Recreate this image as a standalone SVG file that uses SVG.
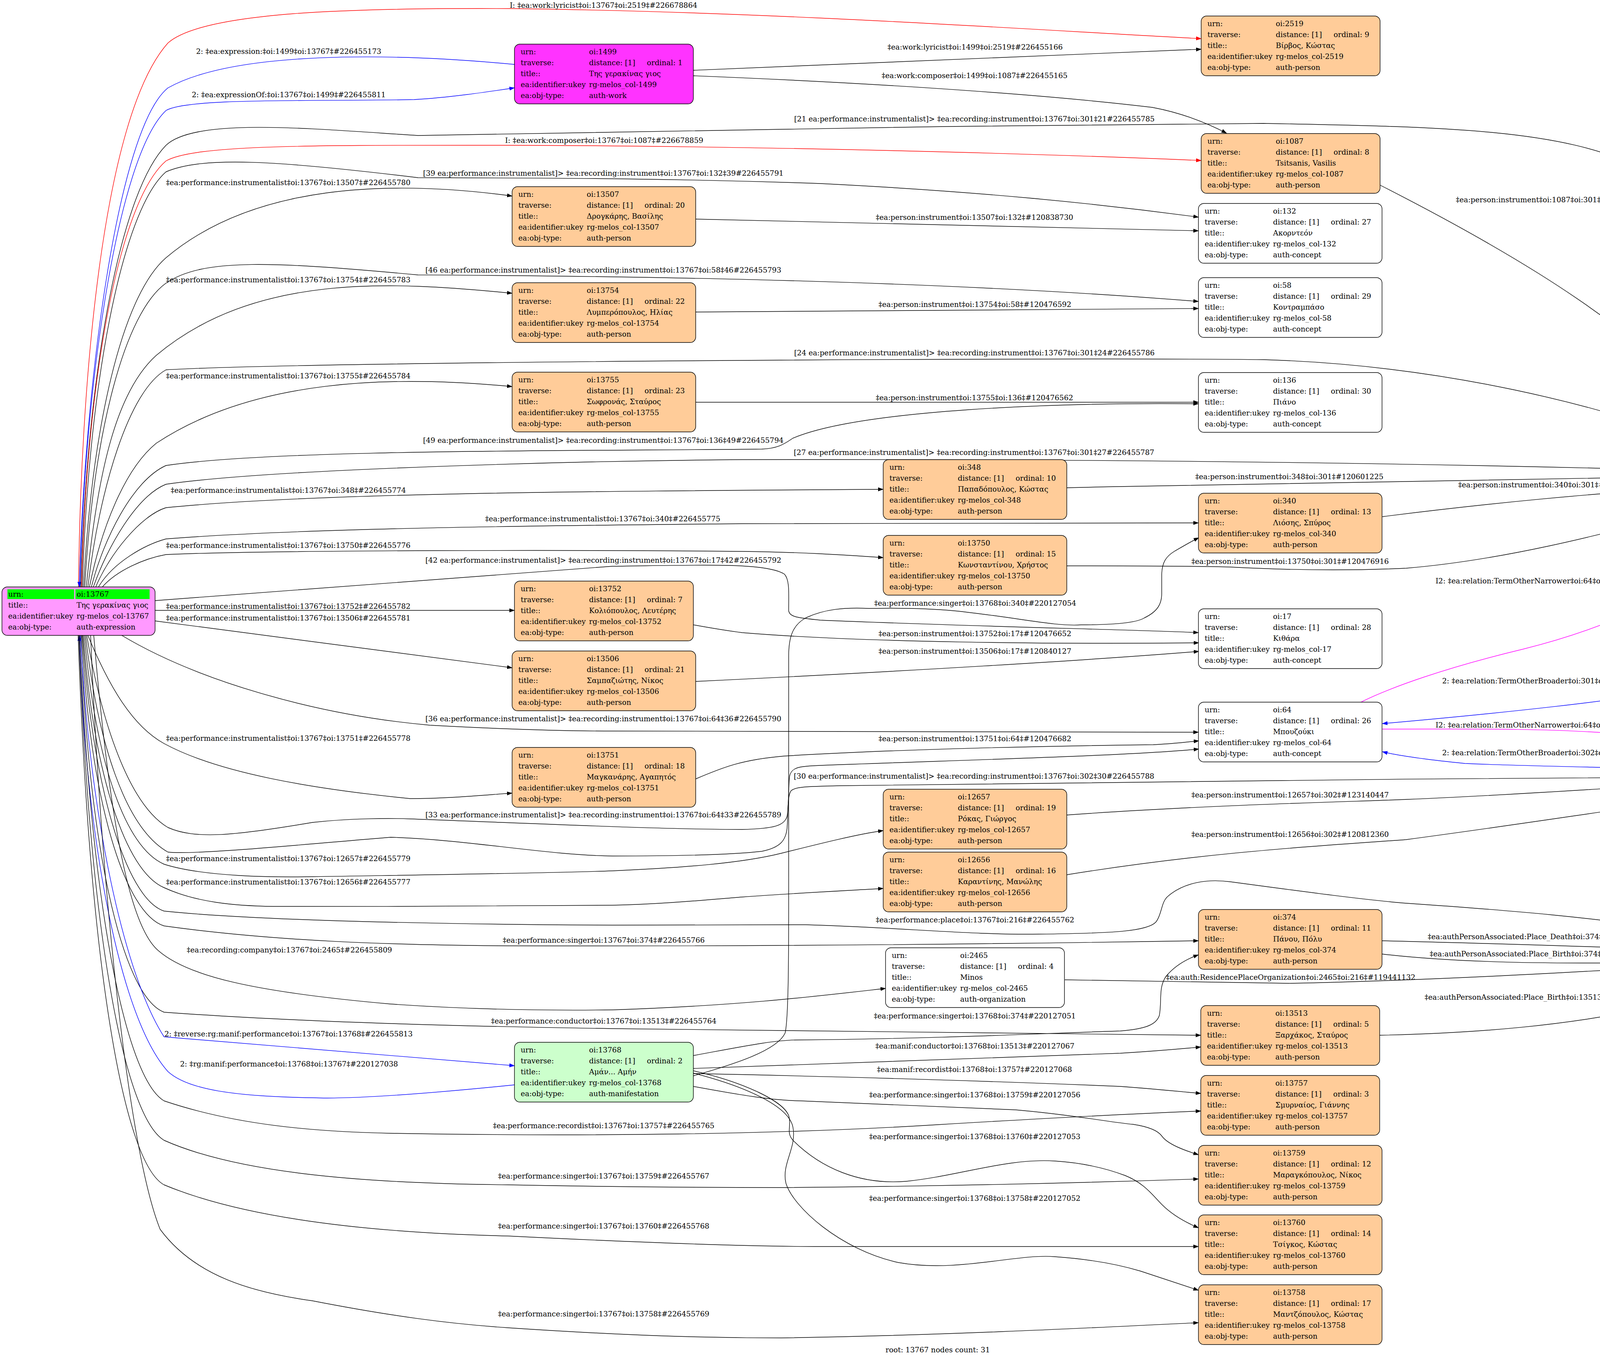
<svg xmlns="http://www.w3.org/2000/svg" width="4803" height="3480" viewBox="0 0 4803 3480">
<style>
text { font-family: "DejaVu Serif", "Liberation Serif", serif; font-size: 18.67px; fill: #000; }
.box { stroke: #000; stroke-width: 1.4; }
.person { fill: #ffcc99; }
.white { fill: #ffffff; }
.work { fill: #ff33ff; }
.expr { fill: #ff99ff; }
.manif { fill: #ccffcc; }
.e { fill: none; stroke: #000; stroke-width: 1.4; marker-end: url(#ab); }
.r { stroke: #ff0000; marker-end: url(#ar); }
.b { stroke: #0000ff; marker-end: url(#abl); }
.m { stroke: #ff00ff; marker-end: url(#am); }
</style>
<defs>
<marker id="ab" markerWidth="14" markerHeight="10" refX="13" refY="5" orient="auto" markerUnits="userSpaceOnUse"><path d="M0,0 L14,5 L0,10 z" fill="#000"/></marker>
<marker id="ar" markerWidth="14" markerHeight="10" refX="13" refY="5" orient="auto" markerUnits="userSpaceOnUse"><path d="M0,0 L14,5 L0,10 z" fill="#ff0000"/></marker>
<marker id="abl" markerWidth="14" markerHeight="10" refX="13" refY="5" orient="auto" markerUnits="userSpaceOnUse"><path d="M0,0 L14,5 L0,10 z" fill="#0000ff"/></marker>
<marker id="am" markerWidth="14" markerHeight="10" refX="13" refY="5" orient="auto" markerUnits="userSpaceOnUse"><path d="M0,0 L14,5 L0,10 z" fill="#ff00ff"/></marker>
</defs>
<rect width="4803" height="3480" fill="#ffffff"/>

<g id="edges">
<path class="e r" d="M201,1503 C206,1000 260,300 430,110 C520,30 900,20 1305,22 C2000,30 2700,80 3075,99"/>
<path class="e b" d="M1317,165 C1000,135 600,130 430,225 C300,330 215,1000 203,1503"/>
<path class="e b" d="M205,1503 C215,1000 300,400 425,283 C480,250 800,260 1060,255 C1150,250 1250,235 1317,225"/>
<path class="e" d="M207,1503 C220,1000 300,500 425,372 C500,300 800,330 1070,347 C1300,340 2500,320 3235,316 C3700,325 4000,330 4200,430 C4450,600 4530,900 4555,1138"/>
<path class="e r" d="M209,1503 C220,1000 300,520 425,412 C500,370 800,372 1290,372 C2000,374 2700,395 3075,411"/>
<path class="e" d="M211,1503 C225,1000 310,540 425,440 C520,400 700,410 1070,455 C1400,456 1700,456 2100,470 C2500,490 2800,520 3068,556"/>
<path class="e" d="M214,1503 C235,1100 310,760 425,660 C650,470 1000,460 1311,502"/>
<path class="e" d="M217,1503 C240,1100 320,800 425,725 C520,660 700,670 1070,704 C1400,706 2300,710 3068,772"/>
<path class="e" d="M221,1503 C250,1200 300,1000 400,910 C650,700 1000,720 1311,751"/>
<path class="e" d="M225,1503 C255,1250 330,1000 425,947 C800,925 2800,915 3235,921 C3700,935 4100,1040 4365,1138"/>
<path class="e" d="M229,1503 C260,1350 320,1200 400,1135 C650,970 1000,960 1311,990"/>
<path class="e" d="M234,1503 C265,1380 340,1230 425,1192 C700,1150 1500,1155 1950,1150 C1995,1148 2010,1135 2030,1122 C2200,1050 2700,1030 3068,1034"/>
<path class="e" d="M239,1503 C275,1400 350,1270 425,1240 C700,1200 1500,1180 1900,1177 C2800,1175 3600,1185 4327,1205"/>
<path class="e" d="M245,1503 C280,1420 360,1320 425,1300 C800,1262 1500,1258 2261,1253"/>
<path class="e" d="M252,1503 C290,1440 370,1395 425,1380 C800,1350 1500,1345 1900,1341 C2500,1339 2900,1339 3068,1339"/>
<path class="e" d="M262,1503 C300,1460 370,1430 425,1420 C700,1408 1500,1408 1900,1412 C2050,1414 2150,1420 2261,1428"/>
<path class="e" d="M397,1538 L1568,1450 C1800,1447 1960,1440 2008,1470 C2022,1485 2019,1520 2019,1564 C2022,1580 2041,1582 2100,1588 C2500,1605 2900,1612 3068,1620"/>
<path class="e" d="M397,1563 L1317,1563"/>
<path class="e" d="M397,1590 C800,1640 1100,1680 1311,1710"/>
<path class="e" d="M310,1626 C500,1740 800,1830 1100,1857 C1300,1868 1450,1872 1568,1872 L3068,1875"/>
<path class="e" d="M225,1627 C280,1760 340,1860 420,1904 C560,1980 800,2020 1050,2045 C1150,2045 1250,2035 1311,2031"/>
<path class="e" d="M222,1627 C260,1850 330,2060 430,2119 C500,2150 600,2140 800,2106 C900,2095 1000,2095 1050,2097 C1400,2110 1700,2124 1900,2124 C1980,2122 2008,2115 2015,2090 C2020,2060 2018,2000 2022,1985 C2028,1965 2045,1962 2100,1960 C2500,1945 2900,1935 3069,1918"/>
<path class="e" d="M219,1627 C250,1900 320,2120 430,2182 C500,2190 800,2160 1000,2144 C1200,2150 1400,2190 1568,2192 C1750,2192 1880,2188 1950,2180 C2000,2170 2012,2150 2015,2120 C2018,2080 2015,2040 2025,2025 C2035,2015 2060,2014 2150,2012 C2800,2002 3600,1994 4327,1990"/>
<path class="e" d="M216,1627 C245,1950 320,2170 420,2213 C520,2245 700,2247 800,2245 C1100,2240 1400,2236 1568,2230 C1750,2222 1900,2210 2000,2185 C2100,2160 2200,2135 2261,2127"/>
<path class="e" d="M213,1627 C240,1980 320,2230 420,2273 C500,2310 600,2320 700,2321 C1000,2322 1400,2320 1568,2318 C1700,2315 1800,2305 1900,2297 C2050,2286 2180,2280 2261,2275"/>
<path class="e" d="M211,1627 C235,2000 320,2300 420,2333 C700,2362 1300,2368 1568,2369 C1800,2369 1950,2368 2063,2368 C2300,2375 2500,2395 2659,2392 C2850,2390 2940,2385 2960,2360 C2975,2340 2972,2310 2990,2295 C3030,2260 3090,2250 3150,2258 C3350,2285 3500,2305 3601,2313 C3850,2330 4100,2350 4333,2389"/>
<path class="e" d="M209,1627 C230,2050 320,2340 420,2371 C700,2410 1000,2420 1300,2422 C2000,2424 2700,2415 3068,2409"/>
<path class="e" d="M240,1627 C280,2100 330,2370 405,2434 C480,2500 650,2540 1000,2571 C1200,2585 1400,2588 1568,2586 C1900,2575 2100,2550 2267,2531"/>
<path class="e" d="M207,1627 C225,2150 310,2550 420,2592 C800,2620 1300,2630 1568,2634 C2200,2645 2800,2650 3074,2651"/>
<path class="e b" d="M206,1628 C230,2100 320,2500 420,2655 C700,2680 1000,2705 1317,2729"/>
<path class="e b" d="M1317,2778 C1100,2800 900,2815 800,2811 C600,2808 480,2790 430,2744 C300,2600 215,2100 203,1628"/>
<path class="e" d="M204,1627 C230,2300 320,2760 420,2819 C600,2880 800,2898 1000,2902 C1500,2911 2000,2905 2400,2880 C2700,2862 2950,2850 3074,2845"/>
<path class="e" d="M202,1627 C230,2400 320,2860 420,2920 C600,3000 900,3030 1300,3034 C1600,3040 1800,3041 2000,3041 C2400,3038 2800,3028 3068,3019"/>
<path class="e" d="M200,1627 C230,2500 320,2980 420,3034 C650,3130 1000,3158 1300,3165 C1600,3180 1900,3192 2100,3192 L3068,3192"/>
<path class="e" d="M232,1627 C260,2300 330,2950 410,3148 C500,3270 650,3310 800,3331 C1000,3370 1150,3390 1300,3400 C1600,3420 1800,3426 2000,3426 C2400,3420 2800,3400 3068,3387"/>
<path class="e" d="M1775,180 C2300,160 2800,140 3075,126"/>
<path class="e" d="M1775,194 C2300,215 2700,245 2950,275 C3030,290 3090,315 3140,341"/>
<path class="e" d="M1780,561 C2300,575 2800,585 3068,591"/>
<path class="e" d="M1780,799 C2300,795 2800,791 3068,790"/>
<path class="e" d="M1780,1030 L3068,1030"/>
<path class="e" d="M3533,474 C3800,610 4100,780 4280,960 C4400,1060 4470,1100 4510,1138"/>
<path class="e" d="M2731,1249 C3100,1240 3500,1234 3601,1233 C3900,1228 4150,1222 4327,1220"/>
<path class="e" d="M3539,1323 C3800,1290 4100,1260 4327,1250"/>
<path class="e" d="M2731,1449 C2900,1449 3050,1449 3150,1452 C3300,1460 3450,1462 3600,1455 C3900,1430 4200,1340 4383,1294"/>
<path class="e m" d="M3484,1798 C3560,1760 3700,1710 3900,1662 C4150,1600 4330,1500 4417,1425 C4460,1380 4490,1330 4508,1293"/>
<path class="e b" d="M4550,1291 C4520,1450 4440,1660 4304,1760 C4200,1790 3800,1830 3539,1853"/>
<path class="e m" d="M3539,1867 C3800,1866 4000,1866 4150,1880 C4230,1890 4290,1905 4329,1918"/>
<path class="e b" d="M4329,1971 C4150,1965 3900,1962 3750,1955 C3650,1945 3580,1935 3539,1925"/>
<path class="e" d="M2731,2087 C3100,2060 3500,2052 3601,2047 C3900,2035 4150,2015 4329,2007"/>
<path class="e" d="M2731,2240 C3100,2180 3400,2165 3600,2150 C3900,2110 4150,2070 4329,2047"/>
<path class="e" d="M1775,1600 C1830,1610 1860,1615 1900,1620 C2200,1645 2700,1650 3069,1646"/>
<path class="e" d="M1780,1745 C2300,1720 2800,1690 3069,1668"/>
<path class="e" d="M1780,1995 C1850,1965 1900,1945 2008,1936 C2300,1918 2700,1910 2952,1907 C3000,1905 3040,1900 3069,1897"/>
<path class="e" d="M1775,2755 C1880,2725 1990,2690 2010,2645 C2020,2600 2019,2400 2019,2200 L2019,1680 C2019,1630 2030,1600 2063,1582 C2110,1560 2160,1555 2225,1558 C2330,1556 2400,1560 2442,1564 C2600,1580 2700,1605 2768,1600 C2850,1600 2910,1595 2930,1582 C2965,1565 2974,1545 2974,1520 L2974,1470 C2975,1440 2985,1425 3006,1412 C3030,1398 3050,1386 3069,1377"/>
<path class="e" d="M1775,2703 C1900,2680 1980,2663 2045,2663 C2400,2660 2700,2645 2868,2640 C2930,2635 2960,2625 2968,2600 C2975,2560 2965,2530 2985,2500 C3010,2470 3040,2455 3068,2445"/>
<path class="e" d="M1775,2736 C2300,2715 2700,2700 2868,2697 C2950,2692 3020,2686 3074,2681"/>
<path class="e" d="M1775,2749 C2300,2760 2700,2775 2868,2782 C2950,2788 3020,2795 3074,2800"/>
<path class="e" d="M1775,2782 C1900,2805 1980,2818 2050,2819 C2300,2830 2500,2838 2600,2842 C2750,2855 2850,2875 2900,2879 C2940,2885 2965,2895 2975,2910 C2990,2930 3030,2945 3068,2957"/>
<path class="e" d="M1775,2742 C1900,2770 2010,2820 2020,2860 C2026,2885 2012,2900 2030,2920 C2100,2990 2200,3035 2320,3025 C2450,3012 2580,2965 2700,2973 C2780,2978 2840,2995 2880,3010 C2930,3030 2950,3060 2975,3085 C3000,3110 3035,3130 3068,3144"/>
<path class="e" d="M1775,2748 C1900,2780 2020,2830 2030,2887 C2040,2940 2000,2980 2012,3030 C2030,3090 2150,3200 2300,3233 C2450,3260 2600,3210 2700,3218 C2800,3225 2870,3240 2920,3255 C2960,3268 3010,3285 3068,3304"/>
<path class="e" d="M3538,2409 C3900,2418 4200,2428 4333,2435"/>
<path class="e" d="M3538,2443 C3700,2462 3900,2466 4050,2466 C4200,2466 4280,2466 4333,2466"/>
<path class="e" d="M2726,2509 C3000,2515 3200,2518 3300,2518 C3700,2510 4100,2485 4333,2472"/>
<path class="e" d="M3532,2651 C3800,2645 4000,2625 4200,2586 C4300,2565 4370,2545 4400,2533"/>
</g>

<g id="edge-labels">
<text x="1305" y="20">I: ‡ea:work:lyricist‡oi:13767‡oi:2519‡#226678864</text>
<text x="502" y="138">2: ‡ea:expression:‡oi:1499‡oi:13767‡#226455173</text>
<text x="491" y="249">2: ‡ea:expressionOf:‡oi:13767‡oi:1499‡#226455811</text>
<text x="2272" y="127">‡ea:work:lyricist‡oi:1499‡oi:2519‡#226455166</text>
<text x="2257" y="200">‡ea:work:composer‡oi:1499‡oi:1087‡#226455165</text>
<text x="2033" y="311">[21 ea:performance:instrumentalist]&gt; ‡ea:recording:instrument‡oi:13767‡oi:301‡21#226455785</text>
<text x="1293" y="366">I: ‡ea:work:composer‡oi:13767‡oi:1087‡#226678859</text>
<text x="1083" y="450">[39 ea:performance:instrumentalist]&gt; ‡ea:recording:instrument‡oi:13767‡oi:132‡39#226455791</text>
<text x="425" y="474">‡ea:performance:instrumentalist‡oi:13767‡oi:13507‡#226455780</text>
<text x="3727" y="518">‡ea:person:instrument‡oi:1087‡oi:301‡#226063146</text>
<text x="2242" y="563">‡ea:person:instrument‡oi:13507‡oi:132‡#120838730</text>
<text x="1089" y="698">[46 ea:performance:instrumentalist]&gt; ‡ea:recording:instrument‡oi:13767‡oi:58‡46#226455793</text>
<text x="425" y="723">‡ea:performance:instrumentalist‡oi:13767‡oi:13754‡#226455783</text>
<text x="2249" y="786">‡ea:person:instrument‡oi:13754‡oi:58‡#120476592</text>
<text x="2033" y="910">[24 ea:performance:instrumentalist]&gt; ‡ea:recording:instrument‡oi:13767‡oi:301‡24#226455786</text>
<text x="425" y="969">‡ea:performance:instrumentalist‡oi:13767‡oi:13755‡#226455784</text>
<text x="2242" y="1025">‡ea:person:instrument‡oi:13755‡oi:136‡#120476562</text>
<text x="1083" y="1134">[49 ea:performance:instrumentalist]&gt; ‡ea:recording:instrument‡oi:13767‡oi:136‡49#226455794</text>
<text x="2032" y="1165">[27 ea:performance:instrumentalist]&gt; ‡ea:recording:instrument‡oi:13767‡oi:301‡27#226455787</text>
<text x="3060" y="1227">‡ea:person:instrument‡oi:348‡oi:301‡#120601225</text>
<text x="3733" y="1248">‡ea:person:instrument‡oi:340‡oi:301‡#120579151</text>
<text x="437" y="1262">‡ea:performance:instrumentalist‡oi:13767‡oi:348‡#226455774</text>
<text x="1242" y="1335">‡ea:performance:instrumentalist‡oi:13767‡oi:340‡#226455775</text>
<text x="425" y="1403">‡ea:performance:instrumentalist‡oi:13767‡oi:13750‡#226455776</text>
<text x="1089" y="1441">[42 ea:performance:instrumentalist]&gt; ‡ea:recording:instrument‡oi:13767‡oi:17‡42#226455792</text>
<text x="3050" y="1444">‡ea:person:instrument‡oi:13750‡oi:301‡#120476916</text>
<text x="3675" y="1494">I2: ‡ea:relation:TermOtherNarrower‡oi:64‡oi:301‡#226517825</text>
<text x="2238" y="1551">‡ea:performance:singer‡oi:13768‡oi:340‡#220127054</text>
<text x="425" y="1559">‡ea:performance:instrumentalist‡oi:13767‡oi:13752‡#226455782</text>
<text x="425" y="1589">‡ea:performance:instrumentalist‡oi:13767‡oi:13506‡#226455781</text>
<text x="2249" y="1629">‡ea:person:instrument‡oi:13752‡oi:17‡#120476652</text>
<text x="2249" y="1674">‡ea:person:instrument‡oi:13506‡oi:17‡#120840127</text>
<text x="3692" y="1750">2: ‡ea:relation:TermOtherBroader‡oi:301‡oi:64‡#87346634</text>
<text x="1089" y="1847">[36 ea:performance:instrumentalist]&gt; ‡ea:recording:instrument‡oi:13767‡oi:64‡36#226455790</text>
<text x="3675" y="1863">I2: ‡ea:relation:TermOtherNarrower‡oi:64‡oi:302‡#226536840</text>
<text x="425" y="1897">‡ea:performance:instrumentalist‡oi:13767‡oi:13751‡#226455778</text>
<text x="2249" y="1898">‡ea:person:instrument‡oi:13751‡oi:64‡#120476682</text>
<text x="3692" y="1934">2: ‡ea:relation:TermOtherBroader‡oi:302‡oi:64‡#87346607</text>
<text x="2032" y="1994">[30 ea:performance:instrumentalist]&gt; ‡ea:recording:instrument‡oi:13767‡oi:302‡30#226455788</text>
<text x="3050" y="2042">‡ea:person:instrument‡oi:12657‡oi:302‡#123140447</text>
<text x="1089" y="2093">[33 ea:performance:instrumentalist]&gt; ‡ea:recording:instrument‡oi:13767‡oi:64‡33#226455789</text>
<text x="3050" y="2143">‡ea:person:instrument‡oi:12656‡oi:302‡#120812360</text>
<text x="425" y="2205">‡ea:performance:instrumentalist‡oi:13767‡oi:12657‡#226455779</text>
<text x="425" y="2265">‡ea:performance:instrumentalist‡oi:13767‡oi:12656‡#226455777</text>
<text x="2242" y="2362">‡ea:performance:place‡oi:13767‡oi:216‡#226455762</text>
<text x="3655" y="2405">‡ea:authPersonAssociated:Place_Death‡oi:374‡oi:216‡#113394011</text>
<text x="1287" y="2414">‡ea:performance:singer‡oi:13767‡oi:374‡#226455766</text>
<text x="478" y="2439">‡ea:recording:company‡oi:13767‡oi:2465‡#226455809</text>
<text x="3660" y="2449">‡ea:authPersonAssociated:Place_Birth‡oi:374‡oi:216‡#113394010</text>
<text x="2985" y="2509">‡ea:auth:ResidencePlaceOrganization‡oi:2465‡oi:216‡#119441132</text>
<text x="3647" y="2560">‡ea:authPersonAssociated:Place_Birth‡oi:13513‡oi:216‡#120478184</text>
<text x="2237" y="2608">‡ea:performance:singer‡oi:13768‡oi:374‡#220127051</text>
<text x="1257" y="2621">‡ea:performance:conductor‡oi:13767‡oi:13513‡#226455764</text>
<text x="421" y="2654">2: ‡reverse:rg:manif:performance‡oi:13767‡oi:13768‡#226455813</text>
<text x="2241" y="2685">‡ea:manif:conductor‡oi:13768‡oi:13513‡#220127067</text>
<text x="461" y="2731">2: ‡rg:manif:performance‡oi:13768‡oi:13767‡#220127038</text>
<text x="2245" y="2745">‡ea:manif:recordist‡oi:13768‡oi:13757‡#220127068</text>
<text x="2225" y="2810">‡ea:performance:singer‡oi:13768‡oi:13759‡#220127056</text>
<text x="1262" y="2889">‡ea:performance:recordist‡oi:13767‡oi:13757‡#226455765</text>
<text x="2225" y="2917">‡ea:performance:singer‡oi:13768‡oi:13760‡#220127053</text>
<text x="1275" y="3018">‡ea:performance:singer‡oi:13767‡oi:13759‡#226455767</text>
<text x="2225" y="3075">‡ea:performance:singer‡oi:13768‡oi:13758‡#220127052</text>
<text x="1275" y="3146">‡ea:performance:singer‡oi:13767‡oi:13760‡#226455768</text>
<text x="1275" y="3371">‡ea:performance:singer‡oi:13767‡oi:13758‡#226455769</text>
</g>

<g id="n13767" transform="translate(5,1503)">
<rect class="box expr" width="392" height="124" rx="14"/>
<rect x="14" y="6" width="171" height="25" fill="#00ff00"/>
<rect x="188" y="6" width="190" height="25" fill="#00ff00"/>
<text x="16" y="25">urn:</text><text x="191" y="25">oi:13767</text>
<text x="16" y="53">title::</text><text x="191" y="53">Της γερακίνας γιος</text>
<text x="16" y="81">ea:identifier:ukey</text><text x="191" y="81">rg-melos_col-13767</text>
<text x="16" y="109">ea:obj-type:</text><text x="191" y="109">auth-expression</text>
</g>

<g id="n1499" transform="translate(1317,113)">
<rect class="box work" width="458" height="153" rx="14"/>
<text x="16" y="26">urn:</text><text x="191" y="26">oi:1499</text>
<text x="16" y="54">traverse:</text><text x="191" y="54">distance: [1]</text><text x="339" y="54">ordinal: 1</text>
<text x="16" y="82">title::</text><text x="191" y="82">Της γερακίνας γιος</text>
<text x="16" y="110">ea:identifier:ukey</text><text x="191" y="110">rg-melos_col-1499</text>
<text x="16" y="138">ea:obj-type:</text><text x="191" y="138">auth-work</text>
</g>

<g id="n13507" transform="translate(1311,478)">
<rect class="box person" width="470" height="153" rx="14"/>
<text x="16" y="26">urn:</text><text x="191" y="26">oi:13507</text>
<text x="16" y="54">traverse:</text><text x="191" y="54">distance: [1]</text><text x="339" y="54">ordinal: 20</text>
<text x="16" y="82">title::</text><text x="191" y="82">Δρογκάρης, Βασίλης</text>
<text x="16" y="110">ea:identifier:ukey</text><text x="191" y="110">rg-melos_col-13507</text>
<text x="16" y="138">ea:obj-type:</text><text x="191" y="138">auth-person</text>
</g>

<g id="n13754" transform="translate(1311,724)">
<rect class="box person" width="470" height="153" rx="14"/>
<text x="16" y="26">urn:</text><text x="191" y="26">oi:13754</text>
<text x="16" y="54">traverse:</text><text x="191" y="54">distance: [1]</text><text x="339" y="54">ordinal: 22</text>
<text x="16" y="82">title::</text><text x="191" y="82">Λυμπερόπουλος, Ηλίας</text>
<text x="16" y="110">ea:identifier:ukey</text><text x="191" y="110">rg-melos_col-13754</text>
<text x="16" y="138">ea:obj-type:</text><text x="191" y="138">auth-person</text>
</g>

<g id="n13755" transform="translate(1311,953)">
<rect class="box person" width="470" height="153" rx="14"/>
<text x="16" y="26">urn:</text><text x="191" y="26">oi:13755</text>
<text x="16" y="54">traverse:</text><text x="191" y="54">distance: [1]</text><text x="339" y="54">ordinal: 23</text>
<text x="16" y="82">title::</text><text x="191" y="82">Σωφρονάς, Σταύρος</text>
<text x="16" y="110">ea:identifier:ukey</text><text x="191" y="110">rg-melos_col-13755</text>
<text x="16" y="138">ea:obj-type:</text><text x="191" y="138">auth-person</text>
</g>

<g id="n13752" transform="translate(1317,1488)">
<rect class="box person" width="458" height="153" rx="14"/>
<text x="16" y="26">urn:</text><text x="191" y="26">oi:13752</text>
<text x="16" y="54">traverse:</text><text x="191" y="54">distance: [1]</text><text x="339" y="54">ordinal: 7</text>
<text x="16" y="82">title::</text><text x="191" y="82">Κολιόπουλος, Λευτέρης</text>
<text x="16" y="110">ea:identifier:ukey</text><text x="191" y="110">rg-melos_col-13752</text>
<text x="16" y="138">ea:obj-type:</text><text x="191" y="138">auth-person</text>
</g>

<g id="n13506" transform="translate(1311,1667)">
<rect class="box person" width="470" height="153" rx="14"/>
<text x="16" y="26">urn:</text><text x="191" y="26">oi:13506</text>
<text x="16" y="54">traverse:</text><text x="191" y="54">distance: [1]</text><text x="339" y="54">ordinal: 21</text>
<text x="16" y="82">title::</text><text x="191" y="82">Σαμπαζιώτης, Νίκος</text>
<text x="16" y="110">ea:identifier:ukey</text><text x="191" y="110">rg-melos_col-13506</text>
<text x="16" y="138">ea:obj-type:</text><text x="191" y="138">auth-person</text>
</g>

<g id="n13751" transform="translate(1311,1914)">
<rect class="box person" width="470" height="153" rx="14"/>
<text x="16" y="26">urn:</text><text x="191" y="26">oi:13751</text>
<text x="16" y="54">traverse:</text><text x="191" y="54">distance: [1]</text><text x="339" y="54">ordinal: 18</text>
<text x="16" y="82">title::</text><text x="191" y="82">Μαγκανάρης, Αγαπητός</text>
<text x="16" y="110">ea:identifier:ukey</text><text x="191" y="110">rg-melos_col-13751</text>
<text x="16" y="138">ea:obj-type:</text><text x="191" y="138">auth-person</text>
</g>

<g id="n13768" transform="translate(1317,2669)">
<rect class="box manif" width="458" height="153" rx="14"/>
<text x="16" y="26">urn:</text><text x="191" y="26">oi:13768</text>
<text x="16" y="54">traverse:</text><text x="191" y="54">distance: [1]</text><text x="339" y="54">ordinal: 2</text>
<text x="16" y="82">title::</text><text x="191" y="82">Αμάν... Αμήν</text>
<text x="16" y="110">ea:identifier:ukey</text><text x="191" y="110">rg-melos_col-13768</text>
<text x="16" y="138">ea:obj-type:</text><text x="191" y="138">auth-manifestation</text>
</g>

<g id="n348" transform="translate(2261,1177)">
<rect class="box person" width="470" height="153" rx="14"/>
<text x="16" y="26">urn:</text><text x="191" y="26">oi:348</text>
<text x="16" y="54">traverse:</text><text x="191" y="54">distance: [1]</text><text x="339" y="54">ordinal: 10</text>
<text x="16" y="82">title::</text><text x="191" y="82">Παπαδόπουλος, Κώστας</text>
<text x="16" y="110">ea:identifier:ukey</text><text x="191" y="110">rg-melos_col-348</text>
<text x="16" y="138">ea:obj-type:</text><text x="191" y="138">auth-person</text>
</g>

<g id="n13750" transform="translate(2261,1371)">
<rect class="box person" width="470" height="153" rx="14"/>
<text x="16" y="26">urn:</text><text x="191" y="26">oi:13750</text>
<text x="16" y="54">traverse:</text><text x="191" y="54">distance: [1]</text><text x="339" y="54">ordinal: 15</text>
<text x="16" y="82">title::</text><text x="191" y="82">Κωνσταντίνου, Χρήστος</text>
<text x="16" y="110">ea:identifier:ukey</text><text x="191" y="110">rg-melos_col-13750</text>
<text x="16" y="138">ea:obj-type:</text><text x="191" y="138">auth-person</text>
</g>

<g id="n12657" transform="translate(2261,2021)">
<rect class="box person" width="470" height="153" rx="14"/>
<text x="16" y="26">urn:</text><text x="191" y="26">oi:12657</text>
<text x="16" y="54">traverse:</text><text x="191" y="54">distance: [1]</text><text x="339" y="54">ordinal: 19</text>
<text x="16" y="82">title::</text><text x="191" y="82">Ρόκας, Γιώργος</text>
<text x="16" y="110">ea:identifier:ukey</text><text x="191" y="110">rg-melos_col-12657</text>
<text x="16" y="138">ea:obj-type:</text><text x="191" y="138">auth-person</text>
</g>

<g id="n12656" transform="translate(2261,2182)">
<rect class="box person" width="470" height="153" rx="14"/>
<text x="16" y="26">urn:</text><text x="191" y="26">oi:12656</text>
<text x="16" y="54">traverse:</text><text x="191" y="54">distance: [1]</text><text x="339" y="54">ordinal: 16</text>
<text x="16" y="82">title::</text><text x="191" y="82">Καραντίνης, Μανώλης</text>
<text x="16" y="110">ea:identifier:ukey</text><text x="191" y="110">rg-melos_col-12656</text>
<text x="16" y="138">ea:obj-type:</text><text x="191" y="138">auth-person</text>
</g>

<g id="n2465" transform="translate(2267,2427)">
<rect class="box white" width="458" height="153" rx="14"/>
<text x="16" y="26">urn:</text><text x="191" y="26">oi:2465</text>
<text x="16" y="54">traverse:</text><text x="191" y="54">distance: [1]</text><text x="339" y="54">ordinal: 4</text>
<text x="16" y="82">title::</text><text x="191" y="82">Minos</text>
<text x="16" y="110">ea:identifier:ukey</text><text x="191" y="110">rg-melos_col-2465</text>
<text x="16" y="138">ea:obj-type:</text><text x="191" y="138">auth-organization</text>
</g>

<g id="n2519" transform="translate(3075,41)">
<rect class="box person" width="458" height="153" rx="14"/>
<text x="16" y="26">urn:</text><text x="191" y="26">oi:2519</text>
<text x="16" y="54">traverse:</text><text x="191" y="54">distance: [1]</text><text x="339" y="54">ordinal: 9</text>
<text x="16" y="82">title::</text><text x="191" y="82">Βίρβος, Κώστας</text>
<text x="16" y="110">ea:identifier:ukey</text><text x="191" y="110">rg-melos_col-2519</text>
<text x="16" y="138">ea:obj-type:</text><text x="191" y="138">auth-person</text>
</g>

<g id="n1087" transform="translate(3075,342)">
<rect class="box person" width="458" height="153" rx="14"/>
<text x="16" y="26">urn:</text><text x="191" y="26">oi:1087</text>
<text x="16" y="54">traverse:</text><text x="191" y="54">distance: [1]</text><text x="339" y="54">ordinal: 8</text>
<text x="16" y="82">title::</text><text x="191" y="82">Tsitsanis, Vasilis</text>
<text x="16" y="110">ea:identifier:ukey</text><text x="191" y="110">rg-melos_col-1087</text>
<text x="16" y="138">ea:obj-type:</text><text x="191" y="138">auth-person</text>
</g>

<g id="n132" transform="translate(3068,521)">
<rect class="box white" width="470" height="153" rx="14"/>
<text x="16" y="26">urn:</text><text x="191" y="26">oi:132</text>
<text x="16" y="54">traverse:</text><text x="191" y="54">distance: [1]</text><text x="339" y="54">ordinal: 27</text>
<text x="16" y="82">title::</text><text x="191" y="82">Ακορντεόν</text>
<text x="16" y="110">ea:identifier:ukey</text><text x="191" y="110">rg-melos_col-132</text>
<text x="16" y="138">ea:obj-type:</text><text x="191" y="138">auth-concept</text>
</g>

<g id="n58" transform="translate(3068,711)">
<rect class="box white" width="470" height="153" rx="14"/>
<text x="16" y="26">urn:</text><text x="191" y="26">oi:58</text>
<text x="16" y="54">traverse:</text><text x="191" y="54">distance: [1]</text><text x="339" y="54">ordinal: 29</text>
<text x="16" y="82">title::</text><text x="191" y="82">Κοντραμπάσο</text>
<text x="16" y="110">ea:identifier:ukey</text><text x="191" y="110">rg-melos_col-58</text>
<text x="16" y="138">ea:obj-type:</text><text x="191" y="138">auth-concept</text>
</g>

<g id="n136" transform="translate(3068,954)">
<rect class="box white" width="470" height="153" rx="14"/>
<text x="16" y="26">urn:</text><text x="191" y="26">oi:136</text>
<text x="16" y="54">traverse:</text><text x="191" y="54">distance: [1]</text><text x="339" y="54">ordinal: 30</text>
<text x="16" y="82">title::</text><text x="191" y="82">Πιάνο</text>
<text x="16" y="110">ea:identifier:ukey</text><text x="191" y="110">rg-melos_col-136</text>
<text x="16" y="138">ea:obj-type:</text><text x="191" y="138">auth-concept</text>
</g>

<g id="n340" transform="translate(3068,1263)">
<rect class="box person" width="470" height="153" rx="14"/>
<text x="16" y="26">urn:</text><text x="191" y="26">oi:340</text>
<text x="16" y="54">traverse:</text><text x="191" y="54">distance: [1]</text><text x="339" y="54">ordinal: 13</text>
<text x="16" y="82">title::</text><text x="191" y="82">Λιόσης, Σπύρος</text>
<text x="16" y="110">ea:identifier:ukey</text><text x="191" y="110">rg-melos_col-340</text>
<text x="16" y="138">ea:obj-type:</text><text x="191" y="138">auth-person</text>
</g>

<g id="n17" transform="translate(3068,1559)">
<rect class="box white" width="470" height="153" rx="14"/>
<text x="16" y="26">urn:</text><text x="191" y="26">oi:17</text>
<text x="16" y="54">traverse:</text><text x="191" y="54">distance: [1]</text><text x="339" y="54">ordinal: 28</text>
<text x="16" y="82">title::</text><text x="191" y="82">Κιθάρα</text>
<text x="16" y="110">ea:identifier:ukey</text><text x="191" y="110">rg-melos_col-17</text>
<text x="16" y="138">ea:obj-type:</text><text x="191" y="138">auth-concept</text>
</g>

<g id="n64" transform="translate(3068,1798)">
<rect class="box white" width="470" height="153" rx="14"/>
<text x="16" y="26">urn:</text><text x="191" y="26">oi:64</text>
<text x="16" y="54">traverse:</text><text x="191" y="54">distance: [1]</text><text x="339" y="54">ordinal: 26</text>
<text x="16" y="82">title::</text><text x="191" y="82">Μπουζούκι</text>
<text x="16" y="110">ea:identifier:ukey</text><text x="191" y="110">rg-melos_col-64</text>
<text x="16" y="138">ea:obj-type:</text><text x="191" y="138">auth-concept</text>
</g>

<g id="n374" transform="translate(3068,2329)">
<rect class="box person" width="470" height="153" rx="14"/>
<text x="16" y="26">urn:</text><text x="191" y="26">oi:374</text>
<text x="16" y="54">traverse:</text><text x="191" y="54">distance: [1]</text><text x="339" y="54">ordinal: 11</text>
<text x="16" y="82">title::</text><text x="191" y="82">Πάνου, Πόλυ</text>
<text x="16" y="110">ea:identifier:ukey</text><text x="191" y="110">rg-melos_col-374</text>
<text x="16" y="138">ea:obj-type:</text><text x="191" y="138">auth-person</text>
</g>

<g id="n13513" transform="translate(3074,2575)">
<rect class="box person" width="458" height="153" rx="14"/>
<text x="16" y="26">urn:</text><text x="191" y="26">oi:13513</text>
<text x="16" y="54">traverse:</text><text x="191" y="54">distance: [1]</text><text x="339" y="54">ordinal: 5</text>
<text x="16" y="82">title::</text><text x="191" y="82">Ξαρχάκος, Σταύρος</text>
<text x="16" y="110">ea:identifier:ukey</text><text x="191" y="110">rg-melos_col-13513</text>
<text x="16" y="138">ea:obj-type:</text><text x="191" y="138">auth-person</text>
</g>

<g id="n13757" transform="translate(3074,2754)">
<rect class="box person" width="458" height="153" rx="14"/>
<text x="16" y="26">urn:</text><text x="191" y="26">oi:13757</text>
<text x="16" y="54">traverse:</text><text x="191" y="54">distance: [1]</text><text x="339" y="54">ordinal: 3</text>
<text x="16" y="82">title::</text><text x="191" y="82">Σμυρναίος, Γιάννης</text>
<text x="16" y="110">ea:identifier:ukey</text><text x="191" y="110">rg-melos_col-13757</text>
<text x="16" y="138">ea:obj-type:</text><text x="191" y="138">auth-person</text>
</g>

<g id="n13759" transform="translate(3068,2933)">
<rect class="box person" width="470" height="153" rx="14"/>
<text x="16" y="26">urn:</text><text x="191" y="26">oi:13759</text>
<text x="16" y="54">traverse:</text><text x="191" y="54">distance: [1]</text><text x="339" y="54">ordinal: 12</text>
<text x="16" y="82">title::</text><text x="191" y="82">Μαραγκόπουλος, Νίκος</text>
<text x="16" y="110">ea:identifier:ukey</text><text x="191" y="110">rg-melos_col-13759</text>
<text x="16" y="138">ea:obj-type:</text><text x="191" y="138">auth-person</text>
</g>

<g id="n13760" transform="translate(3068,3111)">
<rect class="box person" width="470" height="153" rx="14"/>
<text x="16" y="26">urn:</text><text x="191" y="26">oi:13760</text>
<text x="16" y="54">traverse:</text><text x="191" y="54">distance: [1]</text><text x="339" y="54">ordinal: 14</text>
<text x="16" y="82">title::</text><text x="191" y="82">Τσίγκος, Κώστας</text>
<text x="16" y="110">ea:identifier:ukey</text><text x="191" y="110">rg-melos_col-13760</text>
<text x="16" y="138">ea:obj-type:</text><text x="191" y="138">auth-person</text>
</g>

<g id="n13758" transform="translate(3068,3290)">
<rect class="box person" width="470" height="153" rx="14"/>
<text x="16" y="26">urn:</text><text x="191" y="26">oi:13758</text>
<text x="16" y="54">traverse:</text><text x="191" y="54">distance: [1]</text><text x="339" y="54">ordinal: 17</text>
<text x="16" y="82">title::</text><text x="191" y="82">Μαντζόπουλος, Κώστας</text>
<text x="16" y="110">ea:identifier:ukey</text><text x="191" y="110">rg-melos_col-13758</text>
<text x="16" y="138">ea:obj-type:</text><text x="191" y="138">auth-person</text>
</g>

<g id="n301" transform="translate(4327,1138)">
<rect class="box white" width="470" height="153" rx="14"/>
<text x="16" y="26">urn:</text><text x="191" y="26">oi:301</text>
<text x="16" y="54">traverse:</text><text x="191" y="54">distance: [1]</text><text x="339" y="54">ordinal: 24</text>
<text x="16" y="82">title::</text><text x="191" y="82">Τρίχορδο μπουζούκι</text>
<text x="16" y="110">ea:identifier:ukey</text><text x="191" y="110">rg-melos_col-301</text>
<text x="16" y="138">ea:obj-type:</text><text x="191" y="138">auth-concept</text>
</g>

<g id="n302" transform="translate(4327,1913)">
<rect class="box white" width="470" height="153" rx="14"/>
<text x="16" y="26">urn:</text><text x="191" y="26">oi:302</text>
<text x="16" y="54">traverse:</text><text x="191" y="54">distance: [1]</text><text x="339" y="54">ordinal: 25</text>
<text x="16" y="82">title::</text><text x="191" y="82">Τετράχορδο μπουζούκι</text>
<text x="16" y="110">ea:identifier:ukey</text><text x="191" y="110">rg-melos_col-302</text>
<text x="16" y="138">ea:obj-type:</text><text x="191" y="138">auth-concept</text>
</g>

<g id="n216" transform="translate(4333,2379)">
<rect class="box white" width="458" height="153" rx="14"/>
<text x="16" y="26">urn:</text><text x="191" y="26">oi:216</text>
<text x="16" y="54">traverse:</text><text x="191" y="54">distance: [1]</text><text x="339" y="54">ordinal: 6</text>
<text x="16" y="82">title::</text><text x="191" y="82">Αθήνα</text>
<text x="16" y="110">ea:identifier:ukey</text><text x="191" y="110">rg-melos_col-216</text>
<text x="16" y="138">ea:obj-type:</text><text x="191" y="138">auth-place</text>
</g>

<text id="caption" x="2267" y="3463">root: 13767 nodes count: 31</text>
</svg>
